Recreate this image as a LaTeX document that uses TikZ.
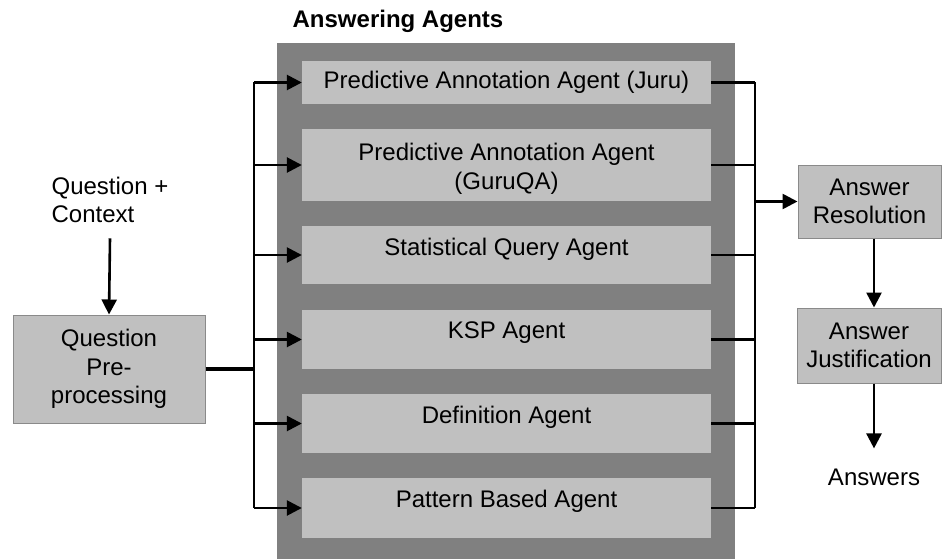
\documentclass[tikz,border=0pt]{standalone}
\usepackage{fontspec}
\setmainfont{Liberation Sans}
\usetikzlibrary{arrows.meta}
\definecolor{lightbox}{HTML}{C0C0C0}
\definecolor{darkpanel}{HTML}{808080}
\definecolor{edgegray}{HTML}{8A8A8A}
\tikzset{
  agent/.style={fill=lightbox, minimum width=409pt, inner sep=0pt},
  block/.style={draw=edgegray, line width=1pt, fill=lightbox, align=center, inner sep=0pt},
  bus/.style={line width=2.6pt},
  flow/.style={line width=2.6pt, -{Triangle[length=15pt,width=15pt]}},
}
\begin{document}
\begin{tikzpicture}[x=1pt,y=-1pt,font=\fontsize{24}{28.5}\selectfont]
  \useasboundingbox (0,0) rectangle (942,559);
  \node[fill=darkpanel, minimum width=458pt, minimum height=516pt, inner sep=0pt] (panel) at (506,301) {};
  \node[font=\fontsize{24}{28.5}\selectfont\bfseries] (title) at (398,21) {Answering Agents};
  \foreach \i/\c/\h/\t/\txt in {1/82.5/43/82.5/{Predictive Annotation Agent (Juru)},
      2/165/72/169/{Predictive Annotation Agent\\(GuruQA)},
      3/255/58/249/{Statistical Query Agent},
      4/339.5/59/333/{KSP Agent},
      5/423.5/59/417/{Definition Agent},
      6/508/60/501/{Pattern Based Agent}}
    {\node[agent, minimum height=\h pt] (a\i) at (506.5,\c) {};
     \node[align=center] (t\i) at (506.5,\t) {\txt};}
  \node[align=left, inner sep=0pt] (qc) at (110,200) {Question +\\Context};
  \node[block, minimum width=192pt, minimum height=108pt] (pre) at (109,369) {Question\\Pre-\\processing};
  \node[block, minimum width=143pt, minimum height=73pt] (res) at (869.5,201.5) {Answer\\Resolution};
  \node[block, minimum width=144pt, minimum height=75pt] (just) at (869,345.5) {Answer\\Justification};
  \node[inner sep=0pt] (ans) at (874,477) {Answers};
  \coordinate (lbus) at (254,369);
  \coordinate (rbus) at (755,0);
  \draw[line width=3.5pt] (pre.east) -- (lbus);
  \draw[bus] (a1.west -| lbus) -- (a6.west -| lbus);
  \draw[bus] (a1.east -| rbus) -- (a6.east -| rbus);
  \foreach \i in {1,...,6} {
    \draw[flow] (a\i.west -| lbus) -- (a\i.west);
    \draw[bus] (a\i.east) -- (a\i.east -| rbus);
  }
  \draw[flow] (res.west -| rbus) -- (res.west);
  \draw[flow] ([yshift=-15pt]qc.south) -- (pre.north);
  \draw[flow] (res.south -| ans) -- (just.north -| ans);
  \draw[flow] (just.south -| ans) -- ([yshift=20pt]ans.north);
\end{tikzpicture}
\end{document}
